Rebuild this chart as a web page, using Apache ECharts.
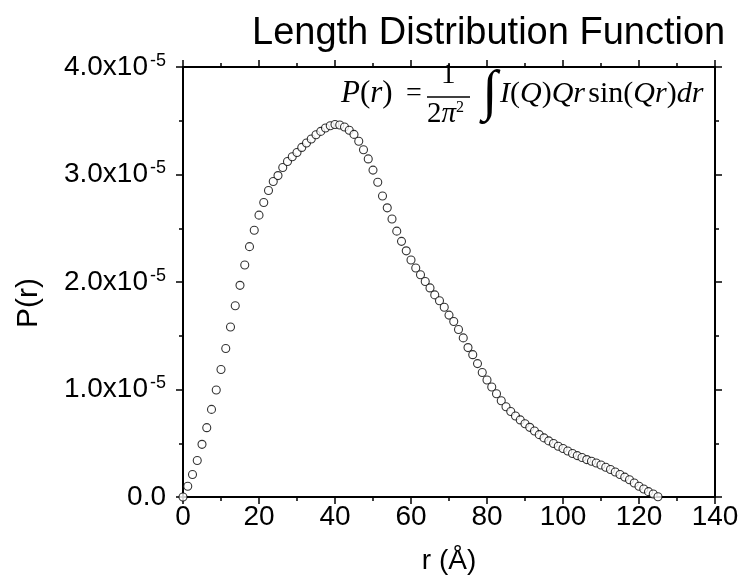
<!DOCTYPE html>
<html>
<head>
<meta charset="utf-8">
<script src="https://cdn.jsdelivr.net/npm/echarts@6/dist/echarts.min.js"></script>
<style>html,body{margin:0;padding:0;background:#fff}#c{width:743px;height:580px}</style>
</head>
<body>
<div id="c"></div>
<script>
// r values (Å)
const rValues = [
  0, 1.25, 2.5, 3.75, 5, 6.25, 7.5, 8.75, 10, 11.25,
  12.5, 13.75, 15, 16.25, 17.5, 18.75, 20, 21.25, 22.5, 23.75,
  25, 26.25, 27.5, 28.75, 30, 31.25, 32.5, 33.75, 35, 36.25,
  37.5, 38.75, 40, 41.25, 42.5, 43.75, 45, 46.25, 47.5, 48.75,
  50, 51.25, 52.5, 53.75, 55, 56.25, 57.5, 58.75, 60, 61.25,
  62.5, 63.75, 65, 66.25, 67.5, 68.75, 70, 71.25, 72.5, 73.75,
  75, 76.25, 77.5, 78.75, 80, 81.25, 82.5, 83.75, 85, 86.25,
  87.5, 88.75, 90, 91.25, 92.5, 93.75, 95, 96.25, 97.5, 98.75,
  100, 101.25, 102.5, 103.75, 105, 106.25, 107.5, 108.75, 110, 111.25,
  112.5, 113.75, 115, 116.25, 117.5, 118.75, 120, 121.25, 122.5, 123.75,
  125
];
// P(r) values in units of 1e-5
const pValues = [
  0, 0.10, 0.21, 0.34, 0.49, 0.645, 0.815, 0.995, 1.186, 1.382,
  1.581, 1.779, 1.969, 2.158, 2.329, 2.482, 2.622, 2.739, 2.851, 2.935,
  2.99, 3.065, 3.121, 3.165, 3.205, 3.252, 3.293, 3.33, 3.37, 3.401,
  3.432, 3.454, 3.465, 3.46, 3.442, 3.412, 3.373, 3.31, 3.23, 3.145,
  3.041, 2.928, 2.80, 2.69, 2.586, 2.473, 2.378, 2.29, 2.205, 2.13,
  2.067, 2.005, 1.945, 1.88, 1.825, 1.765, 1.692, 1.632, 1.558, 1.48,
  1.39, 1.324, 1.241, 1.158, 1.088, 1.023, 0.96, 0.896, 0.84, 0.795,
  0.753, 0.717, 0.682, 0.648, 0.614, 0.58, 0.55, 0.522, 0.497, 0.472,
  0.451, 0.428, 0.404, 0.385, 0.367, 0.348, 0.332, 0.316, 0.297, 0.277,
  0.256, 0.233, 0.209, 0.185, 0.16, 0.13, 0.10, 0.074, 0.05, 0.028,
  0.002
];
const titleText = 'Length Distribution Function';
const xName = 'r (Å)';
const yName = 'P(r)';
const xTicks = {min: 0, max: 140, interval: 20};
const yTicks = {min: 0, max: 4, interval: 1};

const data = rValues.map((r, i) => [r, pValues[i]]);
const SANS = '"Liberation Sans", Arial, sans-serif';
const SERIF = '"Liberation Serif", "Times New Roman", serif';

const axisLine = {show: true, onZero: false, lineStyle: {color: '#000', width: 2}};
const axisTick = {show: true, inside: false, length: 7, lineStyle: {color: '#000', width: 1.5}};
const minorTick = {show: true, splitNumber: 2, length: 4, lineStyle: {color: '#000', width: 1.5}};

const chart = echarts.init(document.getElementById('c'), null, {renderer: 'canvas'});
chart.setOption({
  animation: false,
  backgroundColor: '#fff',
  title: {
    text: titleText, left: 247, top: 10,
    textStyle: {fontFamily: SANS, fontSize: 38, fontWeight: 'normal', color: '#000'}
  },
  grid: {left: 183, right: 28, top: 67, bottom: 83, containLabel: false},
  xAxis: [{
    type: 'value', min: xTicks.min, max: xTicks.max, interval: xTicks.interval,
    position: 'bottom',
    name: xName, nameLocation: 'middle', nameGap: 50,
    nameTextStyle: {fontFamily: SANS, fontSize: 28, color: '#000'},
    axisLine, axisTick, minorTick,
    axisLabel: {fontFamily: SANS, fontSize: 28, color: '#000', margin: 6},
    splitLine: {show: false}
  }, {
    type: 'value', min: xTicks.min, max: xTicks.max, interval: xTicks.interval,
    position: 'top', axisLine, axisTick, minorTick,
    axisLabel: {show: false}, splitLine: {show: false}
  }],
  yAxis: [{
    type: 'value', min: yTicks.min, max: yTicks.max, interval: yTicks.interval,
    position: 'left',
    axisLine, axisTick, minorTick,
    axisLabel: {
      margin: 17,
      formatter: v => v === 0 ? '{a|0.0}' : '{a|' + v.toFixed(1) + 'x10}{g|}{s|-5}',
      rich: {
        a: {fontFamily: SANS, fontSize: 28, color: '#000', lineHeight: 30},
        g: {width: 2},
        s: {fontFamily: SANS, fontSize: 18, color: '#000', verticalAlign: 'top', lineHeight: 18}
      }
    },
    splitLine: {show: false}
  }, {
    type: 'value', min: yTicks.min, max: yTicks.max, interval: yTicks.interval,
    position: 'right', axisLine, axisTick, minorTick,
    axisLabel: {show: false}, splitLine: {show: false}
  }],
  series: [{
    type: 'scatter',
    data: data,
    symbol: 'circle',
    symbolSize: 8,
    clip: false,
    itemStyle: {color: '#fff', borderColor: '#000', borderWidth: 1.1}
  }],
  graphic: [
    {type: 'text', x: 29, y: 303, rotation: Math.PI / 2, style: {
      text: yName, fontFamily: SANS, fontSize: 30, fill: '#000', align: 'center', verticalAlign: 'middle'
    }},
    {type: 'text', left: 341, top: 78, style: {
      text: '{i|P}{n|(}{i|r}{n|)}',
      rich: {i: {fontFamily: SERIF, fontSize: 31, fontStyle: 'italic', fill: '#000'},
             n: {fontFamily: SERIF, fontSize: 31, fill: '#000'}}
    }},
    {type: 'text', left: 406, top: 80, style: {text: '=', fontFamily: SERIF, fontSize: 28, fill: '#000'}},
    {type: 'text', left: 441, top: 61, style: {text: '1', fontFamily: SERIF, fontSize: 29, fill: '#000'}},
    {type: 'line', shape: {x1: 427, y1: 97, x2: 470, y2: 97}, style: {stroke: '#000', lineWidth: 1.3}},
    {type: 'text', left: 427, top: 100, style: {
      text: '{n|2}{i|π}{s|2}',
      rich: {n: {fontFamily: SERIF, fontSize: 29, fill: '#000'},
             i: {fontFamily: SERIF, fontSize: 29, fontStyle: 'italic', fill: '#000'},
             s: {fontFamily: SERIF, fontSize: 16, fill: '#000', verticalAlign: 'top'}}
    }},
    {type: 'text', left: 482, top: 66, style: {text: '∫', fontFamily: SERIF, fontSize: 56, fill: '#000'}},
    {type: 'text', left: 500, top: 79, style: {
      text: '{i|I}{n|(}{i|Q}{n|)}{i|Qr} {n|sin(}{i|Qr}{n|)}{i|dr}',
      rich: {i: {fontFamily: SERIF, fontSize: 30, fontStyle: 'italic', fill: '#000'},
             n: {fontFamily: SERIF, fontSize: 30, fill: '#000'}}
    }}
  ]
});
</script>
</body>
</html>
